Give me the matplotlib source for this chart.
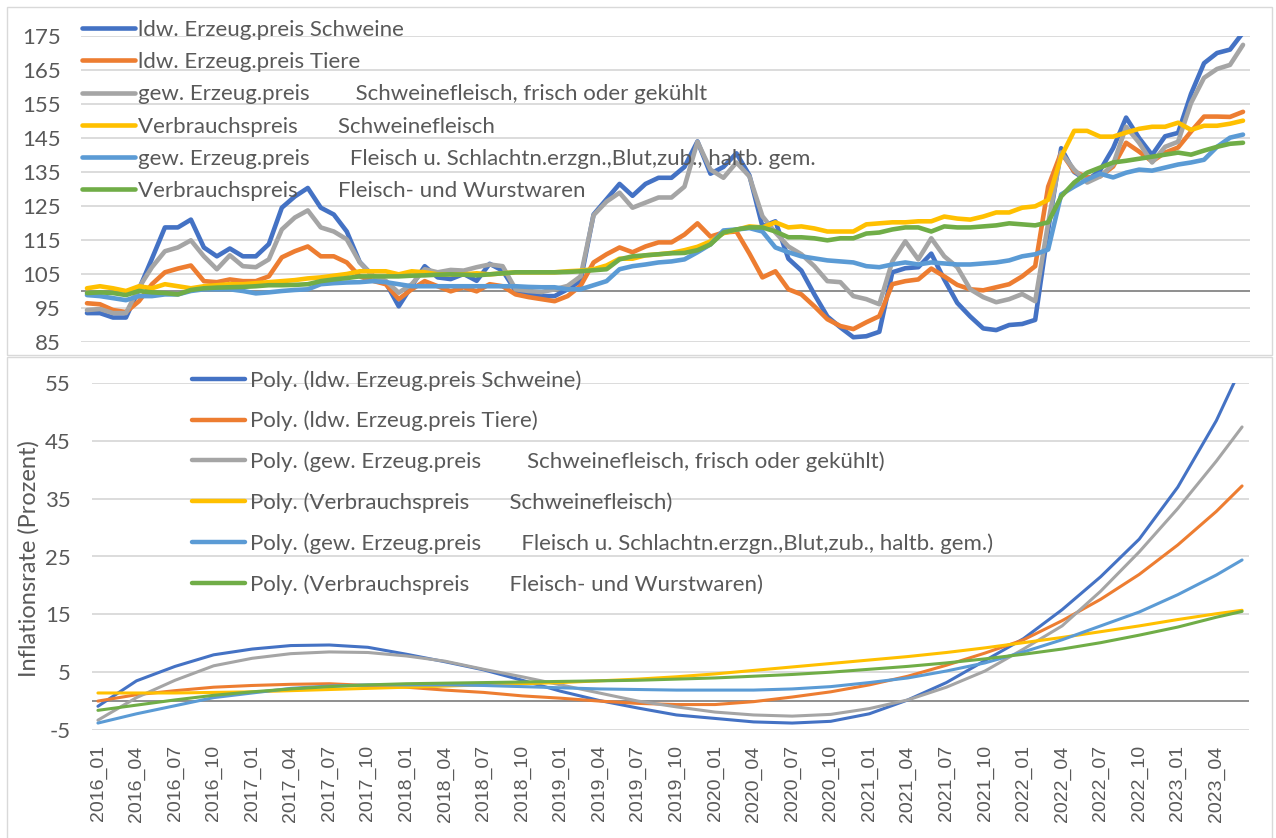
import matplotlib
matplotlib.use("Agg")
import matplotlib.pyplot as plt
from matplotlib.patches import Rectangle

plt.rcParams['font.family'] = ['Lato', 'DejaVu Sans']
plt.rcParams['axes.unicode_minus'] = False

# ---- data (monthly index values, 2016_01 .. 2023_06) ----
months = [f"{y}_{m:02d}" for y in range(2016, 2024) for m in range(1, 13)][:90]

schweine_erz = [93.5, 93.5, 92.2, 92.2, 100.5, 109.5, 118.7, 118.7, 121.0, 112.8, 110.2, 112.5,
                110.2, 110.2, 113.8, 124.5, 127.8, 130.3, 124.5, 122.5, 117.5, 108.5, 104.5, 102.5,
                95.5, 101.5, 107.3, 104.0, 103.5, 105.0, 103.0, 108.0, 106.0, 100.0, 99.0, 98.5,
                98.5, 100.5, 103.0, 122.5, 127.0, 131.5, 128.0, 131.5, 133.3, 133.3, 136.5, 144.0,
                134.5, 136.5, 140.5, 134.0, 119.0, 120.5, 109.5, 106.0, 99.0, 92.5, 89.3, 86.4,
                86.7, 88.0, 105.5, 106.7, 107.0, 111.0, 103.4, 96.5, 92.5, 89.0, 88.5, 90.0,
                90.3, 91.5, 118.0, 142.0, 135.0, 132.5, 135.5, 142.0, 151.0, 145.0, 140.0, 145.5,
                146.5, 158.0, 167.0, 170.0, 171.0, 176.0]
tiere_erz = [96.4, 96.1, 94.4, 93.8, 97.0, 102.0, 105.5, 106.6, 107.5, 102.9, 102.6, 103.4,
             102.9, 102.9, 104.3, 109.9, 111.7, 113.1, 110.2, 110.2, 108.4, 104.3, 103.0, 102.0,
             97.6, 100.5, 102.9, 101.4, 99.9, 101.1, 99.9, 102.0, 101.4, 99.0, 98.2, 97.6,
             97.0, 98.5, 101.5, 108.4, 110.8, 112.8, 111.4, 113.1, 114.3, 114.3, 116.6, 119.9,
             116.0, 117.2, 117.5, 111.0, 104.0, 105.8, 100.5, 99.0, 95.5, 91.7, 89.7, 88.8,
             90.8, 92.6, 102.0, 102.9, 103.4, 106.6, 104.3, 101.8, 100.5, 100.2, 101.1, 102.0,
             104.3, 107.3, 130.7, 140.7, 135.2, 133.4, 133.7, 136.6, 143.6, 141.0, 138.1, 140.7,
             142.2, 146.9, 151.3, 151.3, 151.2, 152.7]
schweinefl_erz = [94.4, 94.7, 93.5, 93.5, 101.0, 107.0, 111.7, 112.8, 114.9, 110.2, 106.4, 110.5,
                  107.3, 107.0, 109.3, 118.1, 121.6, 123.7, 118.7, 117.5, 115.2, 108.4, 104.5, 103.0,
                  99.5, 102.0, 106.4, 105.5, 106.2, 106.0, 107.0, 107.8, 107.3, 100.5, 100.0, 99.7,
                  100.5, 101.5, 104.3, 122.3, 126.3, 128.9, 124.5, 126.0, 127.5, 127.5, 130.7, 143.9,
                  135.7, 133.3, 137.8, 133.7, 122.0, 117.2, 113.1, 110.8, 107.3, 102.9, 102.6, 98.5,
                  97.6, 96.1, 108.7, 114.6, 109.3, 115.5, 110.2, 107.0, 100.5, 98.2, 96.7, 97.6,
                  99.1, 97.0, 120.0, 140.7, 135.7, 131.9, 133.7, 137.2, 148.3, 143.6, 137.8, 142.4,
                  143.9, 155.3, 162.7, 165.3, 166.5, 172.4]
schweinefl_vpi = [100.8, 101.4, 100.8, 100.0, 101.4, 100.8, 102.0, 101.4, 100.8, 101.4, 101.7, 102.0,
                  102.0, 102.3, 102.6, 102.9, 103.2, 103.7, 104.0, 104.5, 105.0, 105.8, 105.8, 105.8,
                  104.9, 105.8, 105.5, 104.9, 104.9, 104.9, 105.2, 104.9, 105.2, 105.5, 105.5, 105.5,
                  105.5, 105.8, 106.0, 106.4, 107.5, 109.5, 109.5, 110.5, 110.8, 111.2, 112.0, 113.0,
                  114.6, 117.0, 118.0, 119.0, 118.7, 120.2, 118.7, 119.0, 118.4, 117.5, 117.5, 117.5,
                  119.6, 119.9, 120.2, 120.2, 120.5, 120.5, 121.9, 121.3, 121.0, 121.9, 123.1, 123.1,
                  124.5, 124.9, 126.8, 139.5, 147.1, 147.1, 145.4, 145.4, 146.6, 147.7, 148.3, 148.3,
                  149.5, 147.4, 148.6, 148.6, 149.2, 150.1]
fleisch_erz = [98.8, 98.5, 97.9, 97.3, 98.5, 98.5, 99.0, 99.0, 100.0, 100.5, 100.5, 100.5,
               100.0, 99.3, 99.6, 100.0, 100.3, 100.5, 102.0, 102.3, 102.5, 102.6, 102.9, 102.6,
               102.0, 101.4, 101.4, 101.4, 101.4, 101.4, 101.4, 101.4, 101.4, 101.4, 101.2, 101.1,
               101.1, 100.5, 100.5, 101.7, 102.9, 106.4, 107.3, 107.8, 108.4, 108.7, 109.3, 111.4,
               113.7, 117.8, 118.1, 118.5, 117.5, 112.8, 111.4, 110.2, 109.6, 109.0, 108.7, 108.4,
               107.3, 107.0, 107.8, 108.4, 107.8, 108.4, 108.1, 107.8, 107.8, 108.1, 108.4, 109.0,
               110.2, 110.8, 112.2, 128.4, 130.7, 132.8, 134.5, 133.4, 134.8, 135.7, 135.4, 136.3,
               137.2, 137.8, 138.6, 142.4, 145.1, 146.0]
wurst_vpi = [99.4, 99.6, 99.4, 98.8, 100.0, 99.6, 99.4, 99.0, 100.3, 100.8, 101.0, 101.1,
             101.2, 101.4, 101.7, 101.7, 101.8, 102.0, 102.9, 103.4, 103.8, 104.3, 104.3, 104.3,
             104.3, 104.5, 104.6, 104.8, 104.9, 104.8, 104.6, 104.9, 105.2, 105.5, 105.5, 105.5,
             105.5, 105.6, 105.8, 106.1, 106.4, 109.3, 110.2, 110.5, 110.8, 111.1, 111.2, 112.0,
             113.7, 117.2, 118.1, 118.7, 118.7, 117.5, 115.8, 115.8, 115.5, 114.9, 115.5, 115.5,
             116.9, 117.2, 118.1, 118.7, 118.7, 117.5, 119.0, 118.7, 118.7, 119.0, 119.3, 119.9,
             119.6, 119.3, 120.2, 127.8, 131.9, 134.8, 136.3, 137.8, 138.3, 138.9, 139.5, 140.1,
             140.7, 140.1, 141.3, 142.4, 143.3, 143.6]

# ---- polynomial trend of the inflation rate, read at quarterly positions ----
trend_idx = list(range(0, 90, 3)) + [89]
trend_schweine_erz = [-0.9, 3.5, 6.0, 8.0, 9.0, 9.6, 9.7, 9.3, 8.1, 6.8, 5.4, 3.6, 1.7, 0.1, -1.2,
                      -2.4, -3.0, -3.6, -3.8, -3.5, -2.2, 0.2, 3.2, 7.0, 10.8, 15.8, 21.5, 28.0,
                      37.0, 48.5, 58.0]
trend_tiere_erz = [0.0, 1.1, 1.8, 2.4, 2.7, 2.9, 3.0, 2.7, 2.4, 1.9, 1.5, 0.9, 0.5, 0.0, -0.4,
                   -0.6, -0.6, -0.1, 0.7, 1.6, 2.8, 4.3, 6.2, 8.3, 10.6, 13.9, 17.6, 21.9,
                   27.0, 32.8, 37.2]
trend_schweinefl_erz = [-3.3, 0.6, 3.6, 6.1, 7.4, 8.2, 8.5, 8.4, 7.8, 6.9, 5.5, 4.2, 2.8, 1.4, 0.0,
                        -1.0, -1.9, -2.4, -2.6, -2.3, -1.3, 0.2, 2.4, 5.2, 9.0, 13.0, 19.0, 25.8,
                        33.3, 41.5, 47.4]
trend_schweinefl_vpi = [1.4, 1.4, 1.4, 1.5, 1.6, 1.8, 2.0, 2.2, 2.4, 2.6, 2.8, 3.0, 3.2, 3.5, 3.8,
                        4.2, 4.7, 5.3, 5.9, 6.5, 7.1, 7.7, 8.4, 9.2, 10.1, 11.0, 12.0, 13.0,
                        14.1, 15.1, 15.7]
trend_fleisch_erz = [-3.8, -2.2, -0.8, 0.6, 1.4, 2.2, 2.6, 2.8, 2.8, 2.8, 2.7, 2.5, 2.3, 2.1, 2.0,
                     1.9, 1.9, 1.9, 2.1, 2.5, 3.2, 4.0, 5.2, 6.6, 8.5, 10.6, 13.0, 15.4,
                     18.4, 21.8, 24.4]
trend_wurst_vpi = [-1.6, -0.7, 0.2, 1.0, 1.6, 2.1, 2.5, 2.8, 3.0, 3.1, 3.2, 3.3, 3.4, 3.5, 3.6,
                   3.8, 4.0, 4.3, 4.6, 5.0, 5.5, 6.0, 6.6, 7.3, 8.1, 9.0, 10.1, 11.4,
                   12.8, 14.5, 15.5]

names = ["ldw. Erzeug.preis Schweine",
         "ldw. Erzeug.preis Tiere",
         "gew. Erzeug.preis        Schweinefleisch, frisch oder gekühlt",
         "Verbrauchspreis       Schweinefleisch",
         "gew. Erzeug.preis       Fleisch u. Schlachtn.erzgn.,Blut,zub., haltb. gem.",
         "Verbrauchspreis       Fleisch- und Wurstwaren"]
colors = ["#4472C4", "#ED7D31", "#A5A5A5", "#FFC000", "#5B9BD5", "#70AD47"]
series = [schweine_erz, tiere_erz, schweinefl_erz, schweinefl_vpi, fleisch_erz, wurst_vpi]
trends = [trend_schweine_erz, trend_tiere_erz, trend_schweinefl_erz,
          trend_schweinefl_vpi, trend_fleisch_erz, trend_wurst_vpi]

TXT = "#595959"
GRID = "#D9D9D9"
W, H = 1276, 838
fig = plt.figure(figsize=(W / 100, H / 100), dpi=100)


def px_axes(left, top, right, bottom):
    return fig.add_axes([left / W, 1 - bottom / H, (right - left) / W, (bottom - top) / H])


# chart frames
for top, bottom in [(7, 355), (357, 845)]:
    fig.add_artist(Rectangle((7 / W, 1 - bottom / H), (1272 - 7) / W, (bottom - top) / H,
                             transform=fig.transFigure, fill=False, edgecolor=GRID, lw=1))

ax1 = px_axes(80.5, 36, 1249.5, 342)
ax2 = px_axes(91.5, 383, 1248.5, 730)

x = list(range(len(months)))
for name, vals, col in zip(names, series, colors):
    ax1.plot(x, vals, color=col, lw=3.3, label=name,
             solid_joinstyle="round", solid_capstyle="round")

for name, vals, col in zip(names, trends, colors):
    ax2.plot(trend_idx, vals, color=col, lw=2.2, label=f"Poly. ({name})",
             solid_joinstyle="round", solid_capstyle="round")

ax1.set_xlim(-0.5, len(months) - 0.5)
ax1.set_ylim(85, 175)
ax1.set_yticks(range(85, 176, 10))
ax1.set_xticks([])
ax1.axhline(100, color="#868686", lw=1.3, zorder=1)

ax2.set_xlim(-0.5, len(months) - 0.5)
ax2.set_ylim(-5, 55)
ax2.set_yticks(range(-5, 56, 10))
ax2.set_xticks(range(0, len(months), 3))
ax2.set_xticklabels(months[::3], rotation=90, fontsize=14, color=TXT,
                    family=["Liberation Sans", "DejaVu Sans"])
ax2.axhline(0, color="#868686", lw=1.3, zorder=1)
ax2.set_ylabel("Inflationsrate (Prozent)", fontsize=17, color=TXT)
ax2.yaxis.set_label_coords(-0.045, 0.495)

for ax in (ax1, ax2):
    ax.grid(axis="y", color=GRID, lw=1.3, zorder=0)
    ax.set_axisbelow(True)
    for s in ax.spines.values():
        s.set_visible(False)
    ax.tick_params(length=0, labelcolor=TXT)
    ax.tick_params(axis="y", labelsize=16)
ax1.tick_params(axis="y", pad=14)
ax2.tick_params(axis="y", pad=15)
ax2.tick_params(axis="x", pad=11)

ax1.legend(loc="upper left", bbox_to_anchor=(82 / W, 1 - 20 / H), bbox_transform=fig.transFigure,
           frameon=False, fontsize=16, labelcolor=TXT, handlelength=2.4, handletextpad=0.14,
           borderpad=0, borderaxespad=0, labelspacing=0.55)
leg2 = ax2.legend(loc="upper left", bbox_to_anchor=(192 / W, 1 - 370 / H), bbox_transform=fig.transFigure,
                  frameon=False, fontsize=16, labelcolor=TXT, handlelength=2.4, handletextpad=0.22,
                  borderpad=0, borderaxespad=0, labelspacing=0.91)
for h in leg2.get_lines():
    h.set_linewidth(3.2)

fig.savefig("out.png", dpi=100)
